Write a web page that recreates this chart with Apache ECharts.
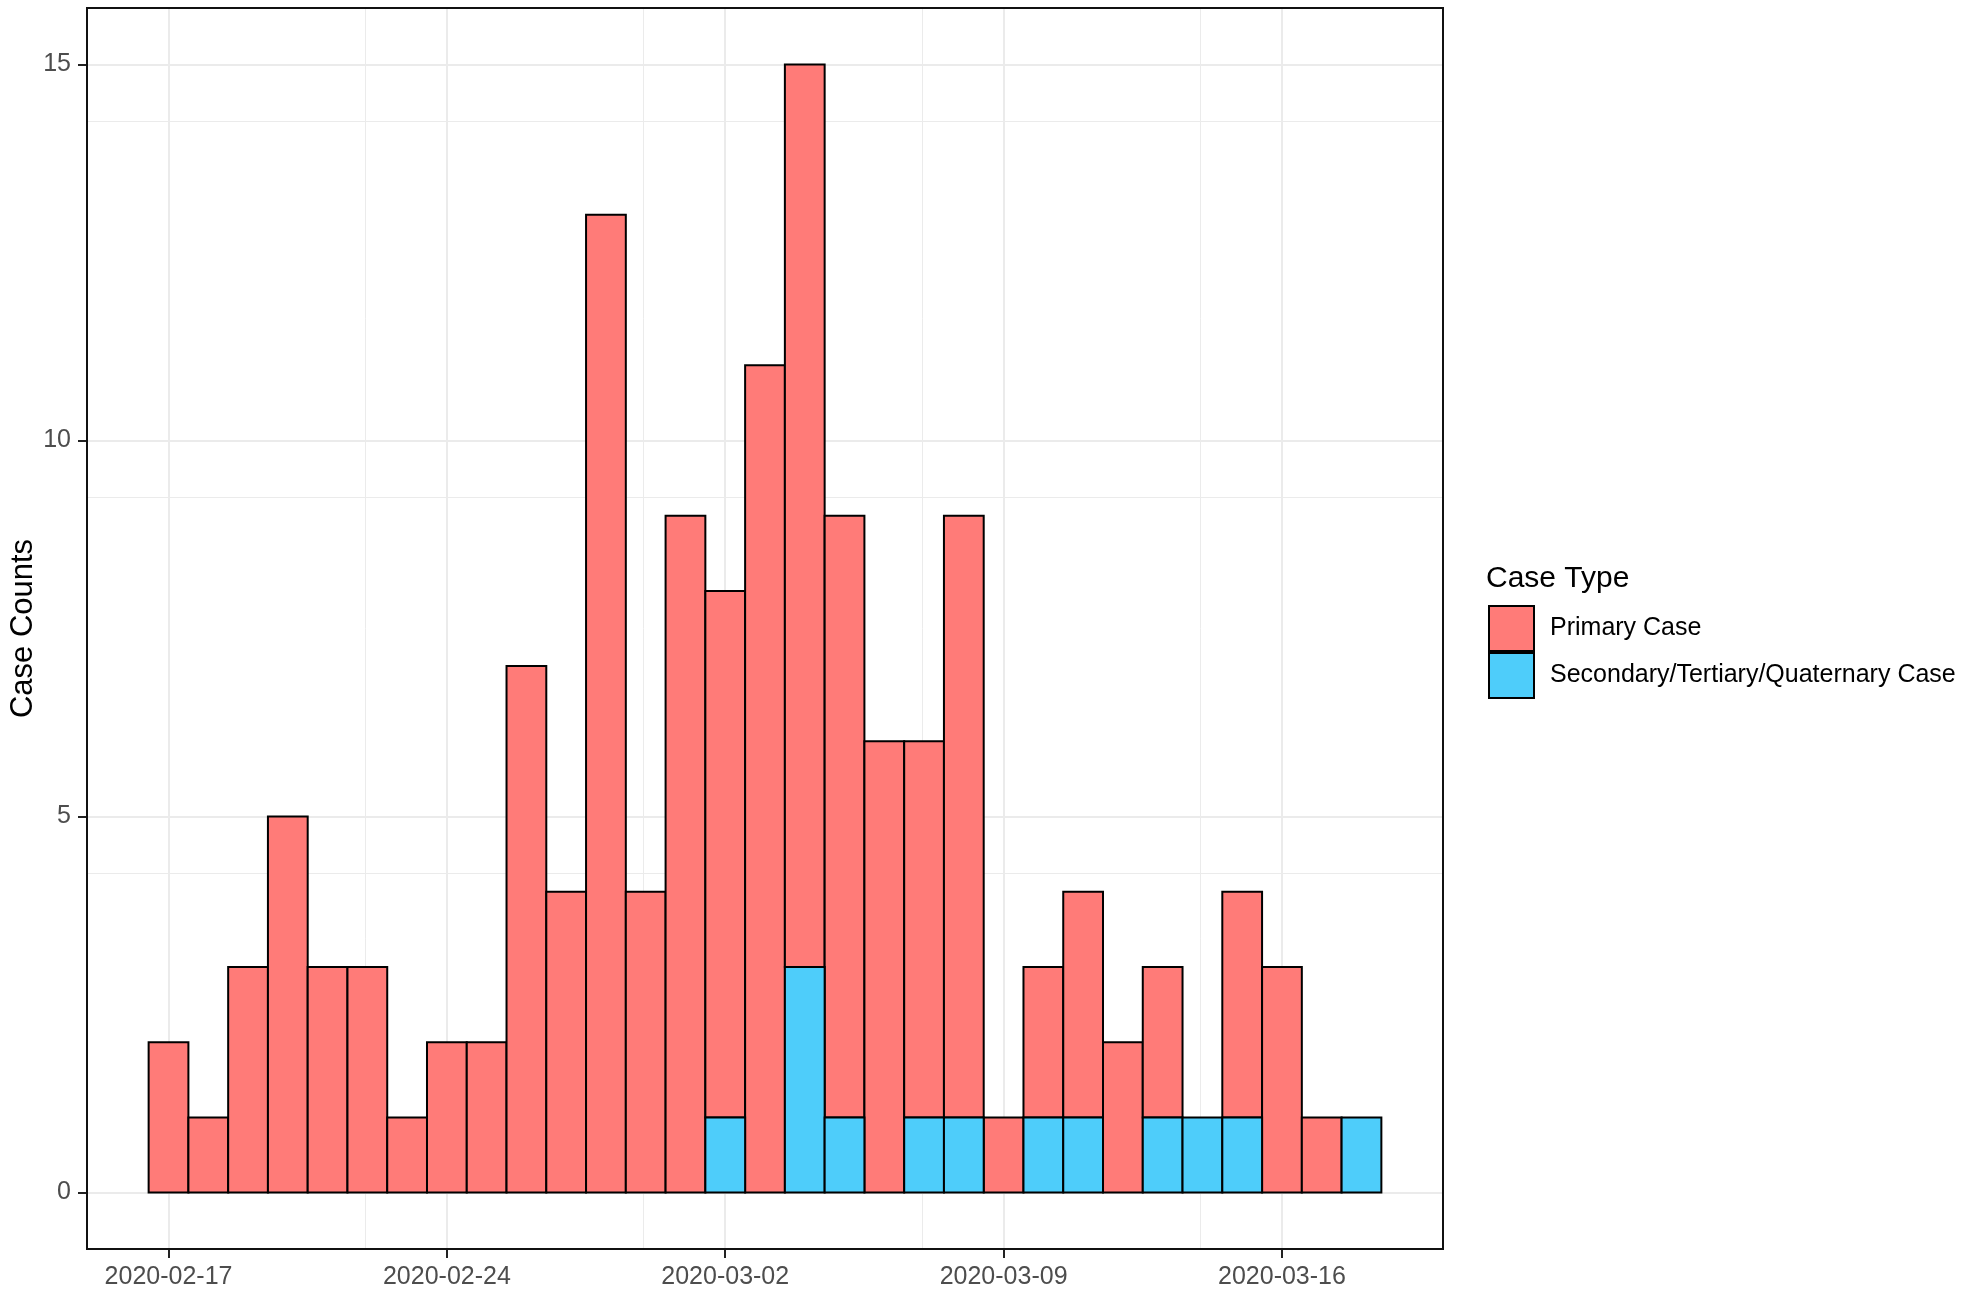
<!DOCTYPE html>
<html>
<head>
<meta charset="utf-8">
<script src="https://cdn.jsdelivr.net/npm/echarts@6/dist/echarts.min.js"></script>
<style>
html,body{margin:0;padding:0;background:#fff;}
#chart{width:1961px;height:1304px;}
</style>
</head>
<body>
<div id="chart"></div>
<script>
// ---- data ----
const dates = ['2020-02-17','2020-02-18','2020-02-19','2020-02-20','2020-02-21','2020-02-22','2020-02-23',
  '2020-02-24','2020-02-25','2020-02-26','2020-02-27','2020-02-28','2020-02-29','2020-03-01',
  '2020-03-02','2020-03-03','2020-03-04','2020-03-05','2020-03-06','2020-03-07','2020-03-08',
  '2020-03-09','2020-03-10','2020-03-11','2020-03-12','2020-03-13','2020-03-14','2020-03-15',
  '2020-03-16','2020-03-17','2020-03-18'];
const primaryCases   = [2,1,3,5,3,3,1,2,2,7,4,13,4,9,7,11,12,8,6,5,8,1,2,3,2,2,0,3,3,1,0];
const secondaryCases = [0,0,0,0,0,0,0,0,0,0,0,0,0,0,1,0,3,1,0,1,1,0,1,1,0,1,1,1,0,0,1];
const xTickLabels = ['2020-02-17','2020-02-24','2020-03-02','2020-03-09','2020-03-16'];
const yTickLabels = [0,5,10,15];
const seriesNames = ['Primary Case','Secondary/Tertiary/Quaternary Case'];

const RED = '#FF7B78', BLUE = '#4ECDFA';
const FONT = '"Liberation Sans", Arial, sans-serif';

// build stacked segments: [x, base, top]
const secData = [], priData = [];
dates.forEach((d, i) => {
  const s = secondaryCases[i], p = primaryCases[i];
  if (s > 0) secData.push([i, 0, s]);
  if (p > 0) priData.push([i, s, s + p]);
});
const xTickValues = xTickLabels.map(l => dates.indexOf(l));

function renderBar(params, api) {
  const x = api.value(0), y0 = api.value(1), y1 = api.value(2);
  const p0 = api.coord([x - 0.5, y0]);
  const p1 = api.coord([x + 0.5, y1]);
  return {
    type: 'rect',
    shape: { x: p0[0], y: p1[1], width: p1[0] - p0[0], height: p0[1] - p1[1] },
    style: { fill: api.visual('color'), stroke: '#000', lineWidth: 2 }
  };
}

const xMin = -2.05, xMax = 32.05, yMin = -0.75, yMax = 15.75;
const gridLine = { color: '#EBEBEB', width: 2 };
const minorLine = { color: '#EBEBEB', width: 1 };

const chart = echarts.init(document.getElementById('chart'), null, { renderer: 'canvas' });
chart.setOption({
  backgroundColor: '#fff',
  animation: false,
  title: {
    text: 'Case Type', left: 1486, top: 564, padding: 0,
    textStyle: { fontFamily: FONT, fontSize: 30, fontWeight: 'normal', color: '#000' }
  },
  legend: {
    orient: 'vertical', left: 1488, top: 605, itemGap: 0, padding: 0,
    itemWidth: 45, itemHeight: 45, icon: 'rect',
    itemStyle: { borderColor: '#000', borderWidth: 2 },
    textStyle: { fontFamily: FONT, fontSize: 25, color: '#000', padding: [0, 0, 0, 11] },
    data: seriesNames
  },
  grid: {
    left: 87, top: 8, width: 1356, height: 1241,
    outerBoundsMode: 'none', containLabel: false,
    show: true, borderColor: '#111', borderWidth: 2, backgroundColor: 'transparent', z: 4
  },
  xAxis: [{
    type: 'value', min: xMin, max: xMax, interval: 7, position: 'bottom',
    axisLine: { show: false, onZero: false },
    axisTick: { show: true, length: 9, lineStyle: { color: '#222', width: 2 }, customValues: xTickValues },
    axisLabel: {
      customValues: xTickValues, margin: 16,
      fontFamily: FONT, fontSize: 25, color: '#4D4D4D',
      formatter: v => dates[Math.round(v)]
    },
    splitLine: { show: true, lineStyle: gridLine }
  }, {
    // minor grid (half-way between the major date breaks)
    type: 'value', min: xMin - 3.5, max: xMax - 3.5, interval: 7, position: 'top',
    axisLine: { show: false, onZero: false }, axisTick: { show: false }, axisLabel: { show: false },
    splitLine: { show: true, lineStyle: minorLine }
  }],
  yAxis: [{
    type: 'value', min: yMin, max: yMax, interval: 5, position: 'left',
    name: 'Case Counts', nameLocation: 'middle', nameRotate: 90, nameGap: 48,
    nameMoveOverlap: false,
    nameTextStyle: { fontFamily: FONT, fontSize: 31, color: '#000' },
    axisLine: { show: false, onZero: false },
    axisTick: { show: true, length: 9, lineStyle: { color: '#222', width: 2 }, customValues: yTickLabels },
    axisLabel: { customValues: yTickLabels, margin: 16, fontFamily: FONT, fontSize: 25, color: '#4D4D4D' },
    splitLine: { show: true, lineStyle: gridLine }
  }, {
    type: 'value', min: yMin - 2.5, max: yMax - 2.5, interval: 5, position: 'right',
    axisLine: { show: false, onZero: false }, axisTick: { show: false }, axisLabel: { show: false },
    splitLine: { show: true, lineStyle: minorLine }
  }],
  series: [{
    name: seriesNames[0], type: 'custom', renderItem: renderBar,
    xAxisIndex: 0, yAxisIndex: 0,
    itemStyle: { color: RED, borderColor: '#000', borderWidth: 2 },
    encode: { x: 0, y: [1, 2] }, data: priData, z: 3
  }, {
    name: seriesNames[1], type: 'custom', renderItem: renderBar,
    xAxisIndex: 0, yAxisIndex: 0,
    itemStyle: { color: BLUE, borderColor: '#000', borderWidth: 2 },
    encode: { x: 0, y: [1, 2] }, data: secData, z: 3
  }]
});
</script>
</body>
</html>
